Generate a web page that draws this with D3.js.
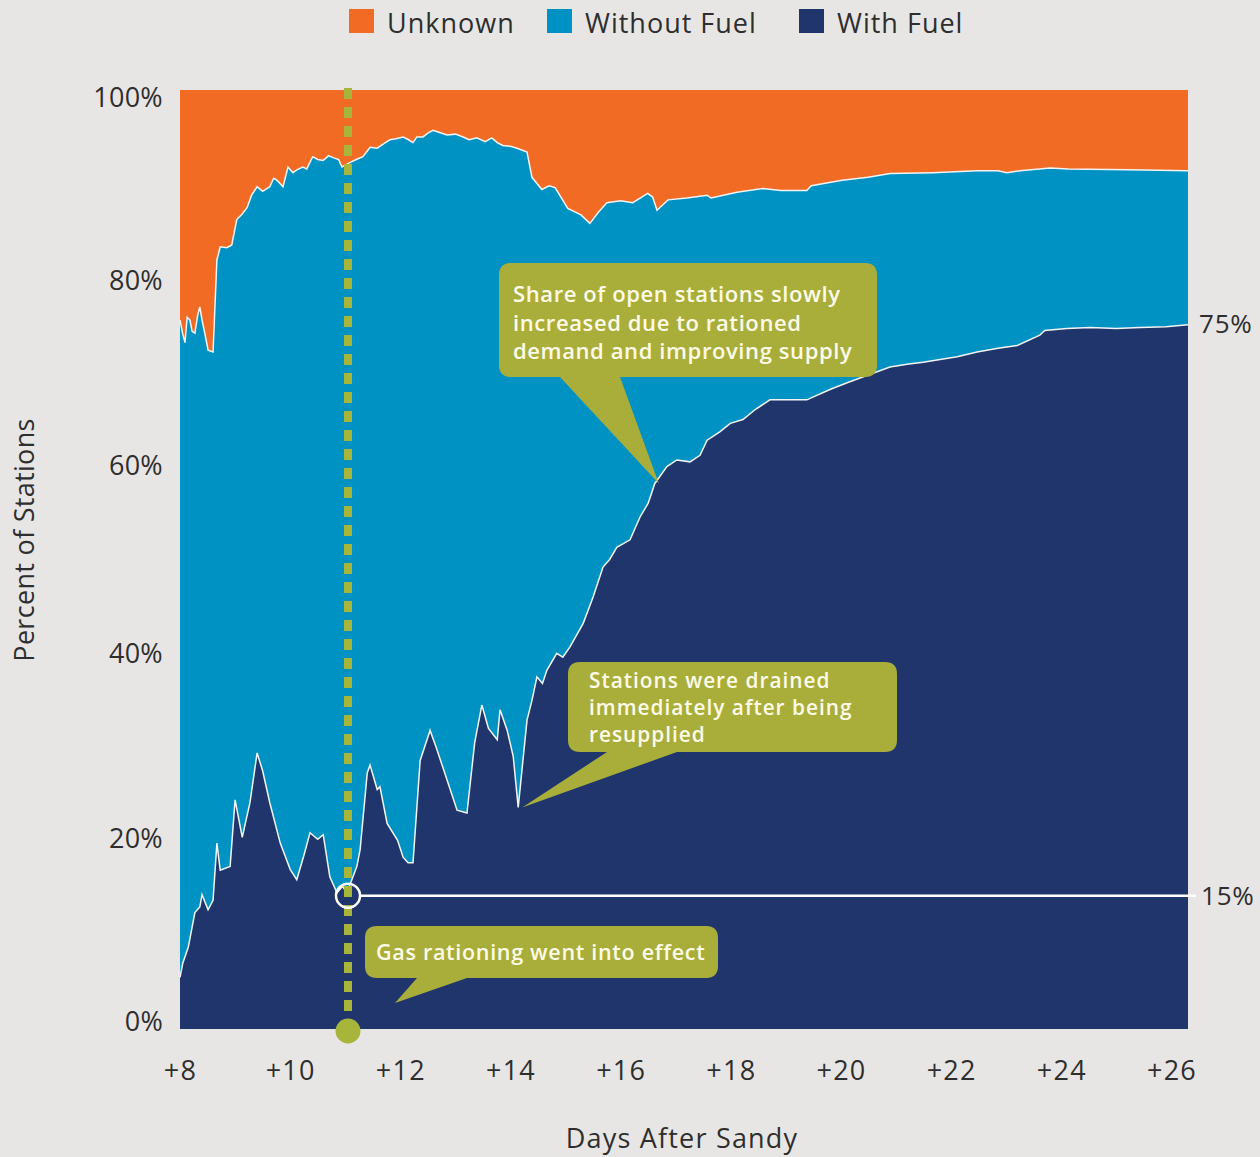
<!DOCTYPE html>
<html>
<head>
<meta charset="utf-8">
<script src="https://cdn.jsdelivr.net/npm/d3@7"></script>
<style>
  html, body { margin: 0; padding: 0; background: #e8e6e5; }
  svg { display: block; font-family: "Open Sans", "Noto Sans", sans-serif; }
</style>
</head>
<body>
<svg id="chart" width="1260" height="1157"></svg>
<script>
// ---- Data (percent of stations) ----
const legendLabels = ["Unknown", "Without Fuel", "With Fuel"];
const xTickValues = [8, 10, 12, 14, 16, 18, 20, 22, 24, 26];
const yTickValues = [0, 20, 40, 60, 80, 100];

// boundary: stations with fuel
const fuelDays = [8.00, 8.05, 8.15, 8.27, 8.36, 8.40, 8.51, 8.60, 8.67, 8.73, 8.91, 9.00, 9.13, 9.27, 9.40, 9.50, 9.63, 9.82, 10.00, 10.12, 10.25, 10.36, 10.50, 10.60, 10.72, 10.85, 10.95, 11.03, 11.21, 11.27, 11.40, 11.45, 11.58, 11.63, 11.76, 11.95, 12.05, 12.14, 12.23, 12.36, 12.54, 12.65, 12.77, 13.03, 13.21, 13.35, 13.48, 13.60, 13.76, 13.81, 13.94, 14.05, 14.14, 14.30, 14.39, 14.48, 14.58, 14.66, 14.84, 14.95, 15.08, 15.32, 15.50, 15.68, 15.80, 15.93, 16.17, 16.35, 16.50, 16.62, 16.84, 17.02, 17.26, 17.44, 17.57, 17.80, 17.99, 18.22, 18.45, 18.71, 19.00, 19.38, 19.80, 20.10, 20.47, 20.89, 21.20, 21.49, 22.11, 22.47, 22.85, 23.20, 23.61, 23.70, 24.10, 24.52, 25.00, 25.43, 25.90, 26.30];
const withFuel = [5.5, 7.0, 8.7, 12.4, 13.0, 14.3, 12.7, 13.7, 19.8, 16.9, 17.3, 24.4, 20.4, 24.1, 29.4, 27.5, 24.1, 19.8, 17.0, 15.9, 18.5, 20.9, 20.2, 20.7, 16.2, 14.5, 15.2, 14.5, 17.3, 19.1, 27.3, 28.1, 25.5, 25.8, 21.9, 20.1, 18.3, 17.7, 17.7, 28.6, 31.8, 30.0, 27.9, 23.3, 23.0, 30.5, 34.5, 32.0, 30.8, 34.0, 31.8, 29.0, 23.6, 32.9, 35.0, 37.5, 36.8, 38.2, 40.0, 39.6, 40.7, 43.2, 46.0, 49.2, 50.0, 51.3, 52.1, 54.5, 56.0, 58.1, 59.9, 60.6, 60.4, 61.1, 62.7, 63.6, 64.5, 64.9, 66.0, 67.0, 67.0, 67.0, 68.1, 68.8, 69.6, 70.5, 70.8, 71.0, 71.6, 72.1, 72.5, 72.8, 73.9, 74.4, 74.6, 74.7, 74.6, 74.7, 74.8, 75.0];

// boundary: stations reported (with fuel + without fuel); the rest is unknown
const knownDays = [8.00, 8.05, 8.09, 8.13, 8.18, 8.22, 8.27, 8.32, 8.36, 8.40, 8.45, 8.51, 8.60, 8.67, 8.73, 8.85, 8.94, 9.03, 9.13, 9.22, 9.30, 9.40, 9.50, 9.63, 9.70, 9.76, 9.87, 9.96, 10.05, 10.12, 10.23, 10.30, 10.41, 10.50, 10.60, 10.70, 10.78, 10.88, 10.94, 11.09, 11.20, 11.32, 11.40, 11.45, 11.58, 11.70, 11.81, 11.92, 12.05, 12.15, 12.23, 12.30, 12.41, 12.50, 12.59, 12.70, 12.85, 13.00, 13.14, 13.25, 13.39, 13.54, 13.66, 13.76, 13.86, 14.00, 14.12, 14.30, 14.39, 14.57, 14.70, 14.81, 15.04, 15.28, 15.44, 15.60, 15.75, 16.00, 16.22, 16.49, 16.58, 16.66, 16.86, 17.20, 17.57, 17.64, 18.11, 18.58, 18.91, 19.38, 19.46, 20.02, 20.49, 20.89, 21.67, 22.47, 22.85, 23.01, 23.25, 23.80, 24.12, 25.23, 26.30];
const knownShare = [75.5, 74.0, 73.1, 75.8, 75.5, 74.3, 74.1, 76.0, 76.9, 75.5, 74.1, 72.3, 72.1, 81.9, 83.3, 83.2, 83.5, 86.2, 86.8, 87.5, 88.8, 89.7, 89.2, 89.7, 90.6, 90.4, 89.7, 91.8, 91.2, 91.5, 91.8, 91.6, 92.9, 92.6, 92.5, 93.0, 92.8, 92.6, 91.8, 92.3, 92.6, 92.9, 93.5, 93.9, 93.8, 94.3, 94.7, 94.8, 95.0, 94.7, 94.4, 95.0, 95.0, 95.4, 95.7, 95.5, 95.2, 95.3, 95.0, 94.7, 94.9, 94.5, 94.9, 94.4, 94.1, 94.0, 93.8, 93.4, 90.7, 89.4, 89.8, 89.6, 87.4, 86.7, 85.8, 87.0, 88.0, 88.2, 88.0, 89.0, 88.6, 87.2, 88.3, 88.5, 88.8, 88.5, 89.1, 89.5, 89.3, 89.3, 89.8, 90.4, 90.7, 91.1, 91.2, 91.4, 91.4, 91.2, 91.4, 91.7, 91.6, 91.5, 91.4];

const rationingDay = 11.05;
const rationingLevel = 14.2;
const rationingLabel = "15%";
const endLabel = "75%";
const endLevel = 75;

// ---- Layout ----
const colors = { unknown: "#f26b24", without: "#0092c3", with: "#1f356b", callout: "#a9ae3b", dash: "#a8b53b", text: "#2e2e2e" };

const svg = d3.select("#chart");
const x = d3.scaleLinear().domain([8, 26.3]).range([180, 1188]);
const y = d3.scaleLinear().domain([0, 100]).range([1029, 90]);

const fuel = fuelDays.map((d, i) => ({ d, v: withFuel[i] }));
const known = knownDays.map((d, i) => ({ d, v: knownShare[i] }));

// unknown (whole plot up to 100%)
svg.append("path")
  .datum(known)
  .attr("fill", colors.unknown)
  .attr("d", d3.area().x(p => x(p.d)).y0(y(0)).y1(y(100)));

// without fuel (up to reported share)
svg.append("path")
  .datum(known)
  .attr("fill", colors.without)
  .attr("d", d3.area().x(p => x(p.d)).y0(y(0)).y1(p => y(p.v)));

// with fuel
svg.append("path")
  .datum(fuel)
  .attr("fill", colors.with)
  .attr("d", d3.area().x(p => x(p.d)).y0(y(0)).y1(p => y(p.v)));

// white boundary lines
const line = d3.line().x(p => x(p.d)).y(p => y(p.v));
svg.append("path").datum(known).attr("fill", "none").attr("stroke", "#f4f4f4").attr("stroke-width", 1.5).attr("d", line);
svg.append("path").datum(fuel).attr("fill", "none").attr("stroke", "#f4f4f4").attr("stroke-width", 1.5).attr("d", line);

// ---- Axes ----
const xAxis = svg.append("g").attr("transform", `translate(0, ${y(0) + 29})`)
  .call(d3.axisBottom(x).tickValues(xTickValues).tickFormat(d => "+" + d).tickSize(0));
xAxis.select(".domain").remove();
xAxis.selectAll("text").attr("font-size", 27).attr("letter-spacing", 1.2).attr("fill", colors.text).attr("font-family", "Open Sans");

const yAxis = svg.append("g").attr("transform", `translate(${163}, 0)`)
  .call(d3.axisLeft(y).tickValues(yTickValues).tickFormat(d => d + "%").tickSize(0).tickPadding(0));
yAxis.select(".domain").remove();
yAxis.selectAll("text").attr("font-size", 27).attr("letter-spacing", 0.3).attr("fill", colors.text).attr("font-family", "Open Sans")
  .attr("dy", d => (d === 100 ? 16 : d === 0 ? 1 : d === 80 ? 12 : d === 20 ? 6 : 9) + "px");

svg.append("text").attr("x", 682).attr("y", 1148).attr("text-anchor", "middle")
  .attr("font-size", 27).attr("letter-spacing", 1.2).attr("fill", colors.text).text("Days After Sandy");
svg.append("text").attr("transform", "translate(34, 540) rotate(-90)").attr("text-anchor", "middle")
  .attr("font-size", 27).attr("letter-spacing", 0.3).attr("fill", colors.text).text("Percent of Stations");

// ---- Legend ----
const legendColors = [colors.unknown, colors.without, colors.with];
const legendX = [349, 547, 799];
legendLabels.forEach((lab, i) => {
  svg.append("rect").attr("x", legendX[i]).attr("y", 9).attr("width", 25).attr("height", 24).attr("fill", legendColors[i]);
  svg.append("text").attr("x", legendX[i] + 38).attr("y", 33).attr("font-size", 27).attr("letter-spacing", 1)
    .attr("fill", colors.text).text(lab);
});

// ---- Rationing marker ----
svg.append("line")
  .attr("x1", x(rationingDay)).attr("x2", x(rationingDay))
  .attr("y1", y(100) - 2).attr("y2", y(0))
  .attr("stroke", colors.dash).attr("stroke-width", 8).attr("stroke-dasharray", "11,8");
svg.append("circle").attr("cx", x(rationingDay)).attr("cy", y(0) + 2).attr("r", 12.5).attr("fill", colors.dash);

svg.append("line")
  .attr("x1", x(rationingDay) + 12).attr("x2", 1196)
  .attr("y1", y(rationingLevel)).attr("y2", y(rationingLevel))
  .attr("stroke", "#ffffff").attr("stroke-width", 2.5);
svg.append("circle").attr("cx", x(rationingDay)).attr("cy", y(rationingLevel)).attr("r", 12)
  .attr("fill", "none").attr("stroke", "#ffffff").attr("stroke-width", 2.5);

svg.append("text").attr("x", 1201).attr("y", y(rationingLevel) + 9).attr("font-size", 26).attr("letter-spacing", 0.8).attr("fill", colors.text).text(rationingLabel);
svg.append("text").attr("x", 1199).attr("y", y(endLevel) + 8).attr("font-size", 26).attr("letter-spacing", 0.8).attr("fill", colors.text).text(endLabel);

// ---- Callouts ----
function calloutPath(x0, y0, x1, y1, r, b0, b1, tx, ty) {
  return `M${x0 + r},${y0} H${x1 - r} Q${x1},${y0} ${x1},${y0 + r} V${y1 - r} Q${x1},${y1} ${x1 - r},${y1}` +
    ` H${b1} L${tx},${ty} L${b0},${y1} H${x0 + r} Q${x0},${y1} ${x0},${y1 - r} V${y0 + r} Q${x0},${y0} ${x0 + r},${y0} Z`;
}
const callouts = [
  { box: [499, 263, 877, 377], base: [560, 620], tip: [16.62, 58.1], lines: ["Share of open stations slowly", "increased due to rationed", "demand and improving supply"], tx: 513, ty: 302, lh: 28.5, fs: 22, ls: 0.6 },
  { box: [568, 662, 897, 752], base: [607, 677], tip: [14.14, 23.6], lines: ["Stations were drained", "immediately after being", "resupplied"], tx: 589, ty: 688, lh: 27, fs: 20.8, ls: 1.0 },
  { box: [365, 926, 718, 978], base: [417, 467], tipPx: [395, 1003], lines: ["Gas rationing went into effect"], tx: 376, ty: 960, lh: 26, fs: 21.5, ls: 0.7 }
];
callouts.forEach(c => {
  const tx = c.tipPx ? c.tipPx[0] : x(c.tip[0]) + 4;
  const ty = c.tipPx ? c.tipPx[1] : y(c.tip[1]);
  svg.append("path")
    .attr("d", calloutPath(c.box[0], c.box[1], c.box[2], c.box[3], 12, c.base[0], c.base[1], tx, ty))
    .attr("fill", colors.callout);
  const t = svg.append("text").attr("x", c.tx).attr("y", c.ty).attr("font-size", c.fs).attr("font-weight", 600)
    .attr("letter-spacing", c.ls).attr("fill", "#fdfbe8");
  c.lines.forEach((l, i) => t.append("tspan").attr("x", c.tx).attr("dy", i === 0 ? 0 : c.lh).text(l));
});
</script>
</body>
</html>
